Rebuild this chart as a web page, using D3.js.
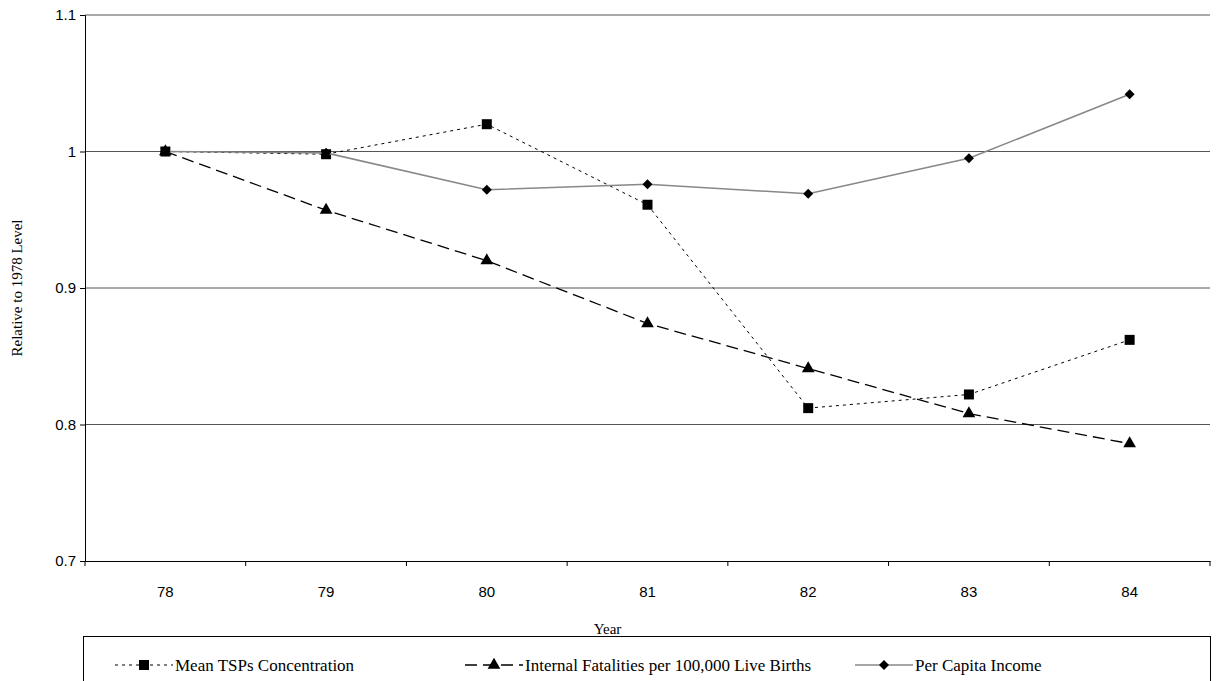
<!DOCTYPE html>
<html><head><meta charset="utf-8">
<script src="https://cdn.jsdelivr.net/npm/d3@7"></script>
<style>body{margin:0;background:#fff}</style>
</head><body>
<svg id="chart" width="1216" height="681"></svg>
<script>
var years = ["78", "79", "80", "81", "82", "83", "84"];
var tsp = [1, 0.998, 1.02, 0.961, 0.812, 0.822, 0.862];
var fatalities = [1, 0.957, 0.920, 0.874, 0.841, 0.808, 0.786];
var income = [1, 0.999, 0.972, 0.976, 0.969, 0.995, 1.042];
var yTicks = [0.7, 0.8, 0.9, 1, 1.1];
var names = ["Mean TSPs Concentration", "Internal Fatalities per 100,000 Live Births", "Per Capita Income"];

var svg = d3.select("#chart");
var mLeft = 85, mRight = 1210, mTop = 15, mBottom = 561;
var x = d3.scaleBand().domain(years).range([mLeft, mRight]);
var y = d3.scaleLinear().domain([0.7, 1.1]).range([mBottom, mTop]);

// gridlines
svg.selectAll(".grid").data(yTicks.slice(1)).enter().append("line")
    .attr("x1", mLeft).attr("x2", mRight)
    .attr("y1", function (d) { return y(d); }).attr("y2", function (d) { return y(d); })
    .attr("stroke", "#555").attr("stroke-width", 1);

var ya = svg.append("g").attr("transform", "translate(" + mLeft + ",0)")
    .call(d3.axisLeft(y).tickValues(yTicks).tickSize(5).tickPadding(4)
        .tickFormat(function (d) { return d === 1 ? "1" : d3.format(".1f")(d); }));
var xa = svg.append("g").attr("transform", "translate(0," + mBottom + ")")
    .call(d3.axisBottom(x).tickSize(0).tickPadding(25));
[ya, xa].forEach(function (g) {
    g.select(".domain").attr("stroke", "#000");
    g.selectAll("text").attr("font-family", "Liberation Sans, Arial").attr("font-size", 15).attr("fill", "#000");
});
xa.selectAll(".sep").data(d3.range(years.length + 1)).enter().append("line")
    .attr("x1", function (i) { return mLeft + i * x.step(); })
    .attr("x2", function (i) { return mLeft + i * x.step(); })
    .attr("y1", 0).attr("y2", 5).attr("stroke", "#000");

svg.append("text").attr("transform", "translate(22," + (y(0.9)) + ") rotate(-90)")
    .attr("text-anchor", "middle").attr("font-family", "Liberation Serif, Times New Roman")
    .attr("font-size", 15).text("Relative to 1978 Level");
svg.append("text").attr("x", (mLeft + mRight) / 2 - 40).attr("y", 634).attr("text-anchor", "middle")
    .attr("font-family", "Liberation Serif, Times New Roman").attr("font-size", 15).text("Year");

var diamond = "M0,-5L5,0L0,5L-5,0Z";
var cx = function (d, i) { return x(years[i]) + x.bandwidth() / 2; };
var line = d3.line().x(cx).y(function (d) { return y(d); });
var series = [
    { data: tsp, dash: "3,4", color: "#000", width: 1, shape: d3.symbol().type(d3.symbolSquare).size(100)() },
    { data: fatalities, dash: "12,6", color: "#000", width: 1.3, shape: d3.symbol().type(d3.symbolTriangle).size(70)() },
    { data: income, dash: null, color: "#888", width: 1.6, shape: diamond }
];
series.forEach(function (s) {
    svg.append("path").attr("d", line(s.data)).attr("fill", "none")
        .attr("stroke", s.color).attr("stroke-width", s.width).attr("stroke-dasharray", s.dash);
    svg.selectAll(null).data(s.data).enter().append("path")
        .attr("d", s.shape)
        .attr("transform", function (d, i) { return "translate(" + cx(d, i) + "," + y(d) + ")"; })
        .attr("fill", "#000");
});

// legend
svg.append("rect").attr("x", 83.5).attr("y", 636.5).attr("width", 1127).attr("height", 60)
    .attr("fill", "#fff").attr("stroke", "#000");
var lx = [115, 465, 855];
series.forEach(function (s, i) {
    var g = svg.append("g").attr("transform", "translate(" + lx[i] + ",665)");
    g.append("line").attr("x1", 0).attr("x2", 58).attr("stroke", s.color)
        .attr("stroke-width", s.width).attr("stroke-dasharray", s.dash);
    g.append("path").attr("d", s.shape).attr("transform", "translate(29,0)");
    g.append("text").attr("x", 60).attr("y", 6).attr("font-family", "Liberation Serif, Times New Roman")
        .attr("font-size", 17).text(names[i]);
});
</script>
</body></html>
